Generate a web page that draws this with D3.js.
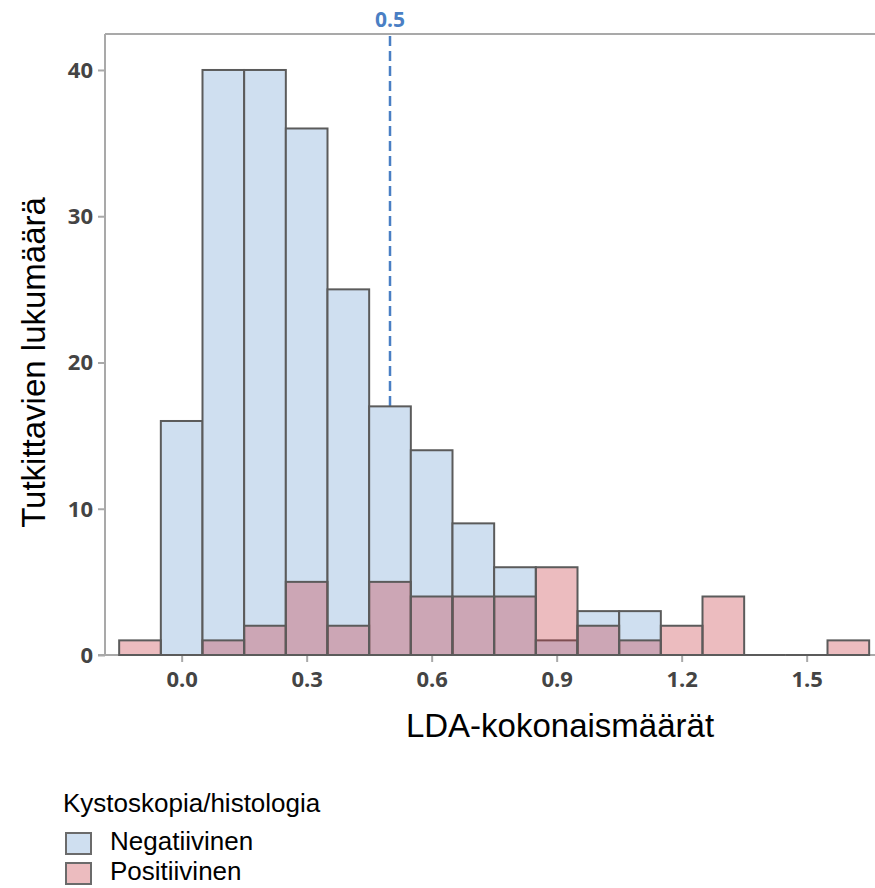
<!DOCTYPE html>
<html>
<head>
<meta charset="utf-8">
<script src="https://cdn.jsdelivr.net/npm/d3@7"></script>
<style>
  html, body { margin: 0; padding: 0; background: #fff; }
  svg { display: block; }
</style>
</head>
<body>
<svg id="chart" width="875" height="888"></svg>
<script>
// ---- data ----
const binCenters = [-0.1, 0.0, 0.1, 0.2, 0.3, 0.4, 0.5, 0.6, 0.7, 0.8, 0.9, 1.0, 1.1, 1.2, 1.3, 1.4, 1.5, 1.6];
const negativeCounts = [0, 16, 40, 40, 36, 25, 17, 14, 9, 6, 1, 3, 3, 0, 0, 0, 0, 0];
const positiveCounts = [1, 0, 1, 2, 5, 2, 5, 4, 4, 4, 6, 2, 1, 2, 4, 0, 0, 1];
const binWidth = 0.1;
const xTicks = [0.0, 0.3, 0.6, 0.9, 1.2, 1.5];
const yTicks = [0, 10, 20, 30, 40];
const referenceValue = 0.5;
const seriesNames = ["Negatiivinen", "Positiivinen"];
const legendTitle = "Kystoskopia/histologia";
const xTitle = "LDA-kokonaismäärät";
const yTitle = "Tutkittavien lukumäärä";

(function () {
// ---- layout ----
const svg = d3.select("#chart");
const pLeft = 105, pRight = 875, pTop = 34, pBottom = 655;
const x = d3.scaleLinear().domain([-0.184, 1.664]).range([pLeft, pRight]);
const y = d3.scaleLinear().domain([0, 42.46]).range([pBottom, pTop]);

const blueFill = "#cfdff0";
const pinkFill = "rgb(197,52,61)";
const pinkOpacity = 0.33;
const barStroke = "#5b5b5b";
const axisGray = "#a9a9a9";
const tickFont = "'Open Sans', 'DejaVu Sans', sans-serif";
const labelFont = "'Liberation Sans', Arial, sans-serif";

// frame: top border
svg.append("line")
  .attr("x1", pLeft).attr("x2", pRight).attr("y1", pTop).attr("y2", pTop)
  .attr("stroke", axisGray).attr("stroke-width", 2);

// reference dashed line (behind bars)
svg.append("line")
  .attr("x1", x(referenceValue)).attr("x2", x(referenceValue))
  .attr("y1", pTop + 2).attr("y2", y(0))
  .attr("stroke", "#4a7fc4").attr("stroke-width", 2.5)
  .attr("stroke-dasharray", "10,5");
svg.append("text")
  .attr("x", x(referenceValue)).attr("y", 27)
  .attr("text-anchor", "middle")
  .attr("font-family", tickFont).attr("font-weight", 700).attr("font-size", 21)
  .attr("fill", "#4a7fc4")
  .text(referenceValue.toFixed(1));

// axes
const yAxis = d3.axisLeft(y).tickValues(yTicks).tickSize(7).tickPadding(5).tickFormat(d3.format("d"));
const gy = svg.append("g").attr("transform", `translate(${pLeft},0)`).call(yAxis);
gy.select(".domain").attr("stroke", axisGray).attr("stroke-width", 2)
  .attr("d", `M0,${pTop}V${pBottom + 1}`);
gy.selectAll(".tick line").attr("stroke", axisGray).attr("stroke-width", 2);
gy.selectAll(".tick text")
  .attr("font-family", tickFont).attr("font-weight", 700).attr("font-size", 22)
  .attr("fill", "#444").attr("dy", "0.34em");

const xAxis = d3.axisBottom(x).tickValues(xTicks).tickSize(7).tickPadding(9).tickFormat(d3.format(".1f"));
const gx = svg.append("g").attr("transform", `translate(0,${pBottom})`).call(xAxis);
gx.select(".domain").attr("stroke", axisGray).attr("stroke-width", 2)
  .attr("d", `M${pLeft - 7},0H${pRight}`);
gx.selectAll(".tick line").attr("stroke", axisGray).attr("stroke-width", 2);
gx.selectAll(".tick text")
  .attr("font-family", tickFont).attr("font-weight", 700).attr("font-size", 22)
  .attr("fill", "#444");

// bins
const bins = binCenters.map((c, i) => ({ c, neg: negativeCounts[i], pos: positiveCounts[i] }));

// empty bins: flat outline
svg.append("g").selectAll("line")
  .data(bins.filter(b => b.neg === 0 && b.pos === 0))
  .join("line")
  .attr("x1", b => x(b.c - binWidth / 2)).attr("x2", b => x(b.c + binWidth / 2))
  .attr("y1", y(0)).attr("y2", y(0))
  .attr("stroke", barStroke).attr("stroke-width", 2);

// negative bars
svg.append("g").selectAll("rect")
  .data(bins.filter(b => b.neg > 0))
  .join("rect")
  .attr("x", b => x(b.c - binWidth / 2))
  .attr("width", b => x(b.c + binWidth / 2) - x(b.c - binWidth / 2))
  .attr("y", b => y(b.neg))
  .attr("height", b => y(0) - y(b.neg))
  .attr("fill", blueFill)
  .attr("stroke", barStroke).attr("stroke-width", 2);

// positive bars (semi-transparent overlay)
svg.append("g").selectAll("rect")
  .data(bins.filter(b => b.pos > 0))
  .join("rect")
  .attr("x", b => x(b.c - binWidth / 2))
  .attr("width", b => x(b.c + binWidth / 2) - x(b.c - binWidth / 2))
  .attr("y", b => y(b.pos))
  .attr("height", b => y(0) - y(b.pos))
  .attr("fill", pinkFill).attr("fill-opacity", pinkOpacity)
  .attr("stroke", barStroke).attr("stroke-width", 2);

// axis titles
svg.append("text")
  .attr("transform", `translate(45,${y(20)}) rotate(-90)`)
  .attr("text-anchor", "middle")
  .attr("font-family", labelFont).attr("font-size", 33)
  .attr("fill", "#000")
  .text(yTitle);
svg.append("text")
  .attr("x", 560).attr("y", 737)
  .attr("text-anchor", "middle")
  .attr("font-family", labelFont).attr("font-size", 33)
  .attr("fill", "#000")
  .text(xTitle);

// legend
const legend = svg.append("g");
legend.append("text")
  .attr("x", 63).attr("y", 812)
  .attr("font-family", labelFont).attr("font-size", 26)
  .attr("fill", "#000")
  .text(legendTitle);
const legendFills = [
  { fill: blueFill, opacity: 1 },
  { fill: pinkFill, opacity: pinkOpacity }
];
seriesNames.forEach((name, i) => {
  const rowY = 833 + i * 30;
  legend.append("rect")
    .attr("x", 66).attr("y", rowY)
    .attr("width", 25).attr("height", 21)
    .attr("fill", legendFills[i].fill).attr("fill-opacity", legendFills[i].opacity)
    .attr("stroke", "#6b6b6b").attr("stroke-width", 2);
  legend.append("text")
    .attr("x", 110).attr("y", rowY + 17)
    .attr("font-family", labelFont).attr("font-size", 26)
    .attr("fill", "#000")
    .text(name);
});
})();
</script>
</body>
</html>
